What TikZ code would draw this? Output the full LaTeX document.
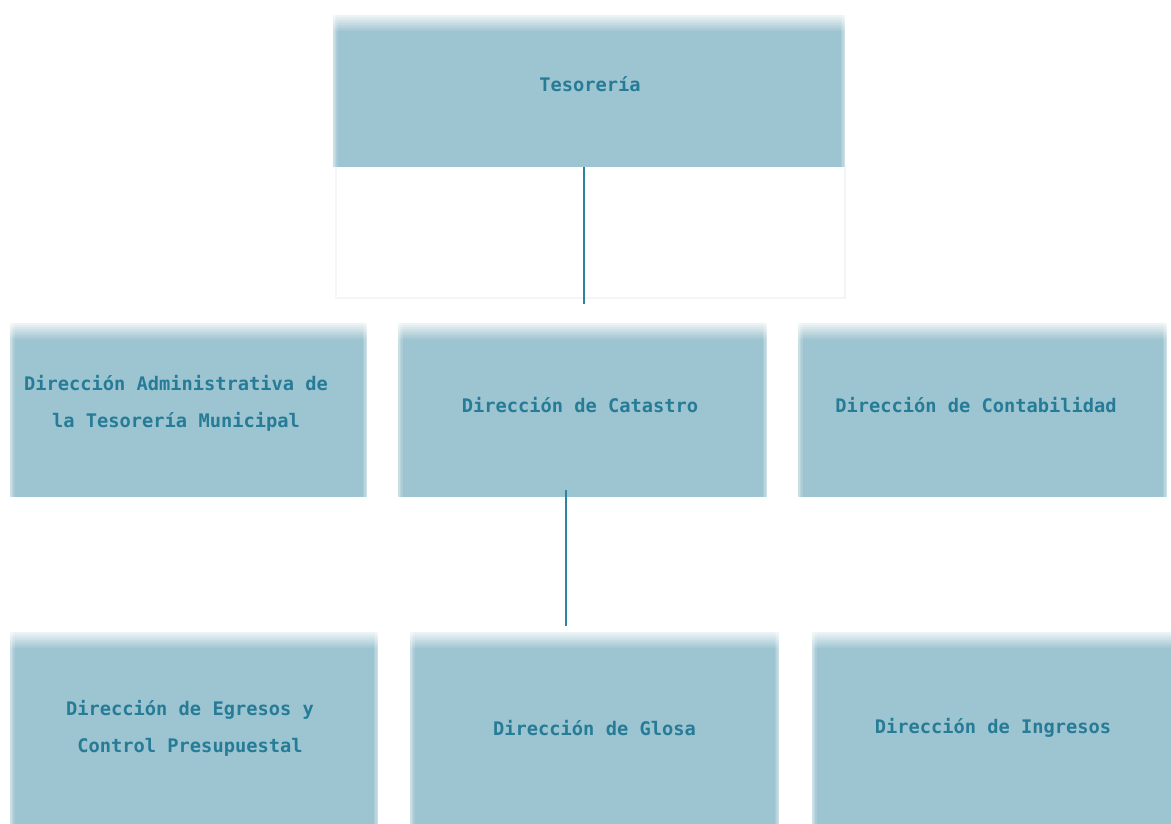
\documentclass[tikz,border=0pt]{standalone}
\usepackage{fontspec}
\setmonofont{DejaVu Sans Mono}
\definecolor{boxblue}{RGB}{157,196,209}
\definecolor{txtcol}{RGB}{38,124,150}
\definecolor{linecol}{RGB}{45,132,162}
\tikzset{
  orgbox/.style={rectangle, fill=boxblue, draw=none, inner sep=0pt, minimum width=#1,
    path picture={
      \foreach \i in {0,...,7}{
        \pgfmathsetmacro\op{0.8-0.1*\i}
        \fill[white, opacity=\op]
          ([yshift=-2*\i pt]path picture bounding box.north west) rectangle
          ([yshift=-2*\i pt-2pt]path picture bounding box.north east);
      }
      \foreach \i in {0,...,2}{
        \pgfmathsetmacro\op{0.45-0.15*\i}
        \fill[white, opacity=\op]
          ([xshift=1.5*\i pt]path picture bounding box.north west) rectangle
          ([xshift=1.5*\i pt+1.5pt]path picture bounding box.south west);
        \fill[white, opacity=\op]
          ([xshift=-1.5*\i pt]path picture bounding box.north east) rectangle
          ([xshift=-1.5*\i pt-1.5pt]path picture bounding box.south east);
      }
    }},
  lbl/.style={inner sep=0pt, align=center, text=txtcol,
    font=\ttfamily\bfseries\fontsize{18.7}{37}\selectfont},
  conn/.style={draw=linecol, line width=1.8pt}
}
\begin{document}
\begin{tikzpicture}[x=1pt,y=-1pt]
\useasboundingbox (0,0) rectangle (1171,823);
\fill[white] (0,0) rectangle (1171,823);
% faint outline under the top box
\draw[black!4, line width=2pt] (336,166) rectangle (845,298);
% boxes
\node[orgbox=512pt, minimum height=152pt] (top) at (589,91) {};
\node[orgbox=357pt, minimum height=174pt] (bA) at (188.5,410) {};
\node[orgbox=369pt, minimum height=174pt] (bB) at (582.5,410) {};
\node[orgbox=369pt, minimum height=174pt] (bC) at (982.5,410) {};
\node[orgbox=368pt, minimum height=200pt] (bD) at (194,732) {};
\node[orgbox=369pt, minimum height=200pt] (bE) at (594.5,732) {};
\node[orgbox=368pt, minimum height=200pt] (bF) at (996,732) {};
% labels
\node[lbl] (tT) at ([xshift=1pt,yshift=6.5pt]top.center) {Tesorería};
\node[lbl] (tA) at ([xshift=-12.5pt,yshift=7pt]bA.center) {Dirección Administrativa de\\la Tesorería Municipal};
\node[lbl] (tB) at ([xshift=-2.5pt,yshift=5pt]bB.center) {Dirección de Catastro};
\node[lbl] (tC) at ([xshift=-6.5pt,yshift=5pt]bC.center) {Dirección de Contabilidad};
\node[lbl] (tD) at ([xshift=-4pt,yshift=4pt]bD.center) {Dirección de Egresos y\\Control Presupuestal};
\node[lbl] (tE) at ([xshift=0pt,yshift=4pt]bE.center) {Dirección de Glosa};
\node[lbl] (tF) at ([xshift=-3pt,yshift=4pt]bF.center) {Dirección de Ingresos};
% connectors
\coordinate (c1) at (584,304);
\draw[conn] (top.south -| c1) -- (c1);
\coordinate (c2a) at (566,490);
\coordinate (c2b) at (566,626);
\draw[conn] (c2a) -- (c2b);
\end{tikzpicture}
\end{document}
